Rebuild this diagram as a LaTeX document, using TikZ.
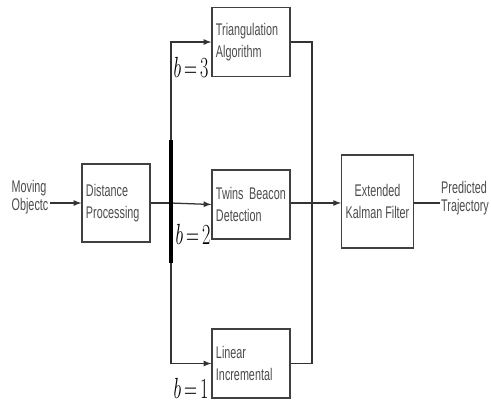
\documentclass[tikz,border=0pt]{standalone}
\usepackage{fontspec}
\usepackage{graphicx}
\newfontfamily\narrowsf[FakeStretch=0.64]{Liberation Sans}
\usetikzlibrary{arrows}
\tikzset{
    block_node/.style = {rectangle, draw=black!75, line width=0.9pt, align=left, inner sep=0.1cm, text=black!70, font=\narrowsf\fontsize{12}{15.5}\selectfont},
    side_node/.style = {align=left, inner sep=1pt, text=black!70, font=\narrowsf\fontsize{12}{12.5}\selectfont},
    b_label/.style = {inner sep=0pt, font=\fontsize{20}{22}\selectfont},
    conn/.style = {draw=black!80, line width=0.9pt}
}
\newcommand{\blabel}[1]{\scalebox{0.62}[1]{$b\,{=}\,#1$}}

\begin{document}
\begin{tikzpicture}[x=0.025cm, y=-0.025cm, >=latex]
    \useasboundingbox (0,0) rectangle (491,403);
    % input and preprocessing
    \node [side_node] (moving) at (30,197) {Moving\\Objectc};
    \node [block_node, text width=1.5cm, minimum height=1.95cm] (dist) at (116,203) {Distance\\Processing};
    % the three methods
    \node [block_node, text width=1.75cm, minimum height=1.725cm] (tri) at (251,42) {Triangulation\\Algorithm};
    \node [block_node, text width=1.75cm, minimum height=1.725cm] (twin) at (251,204.5) {Twins Beacon\\Detection};
    \node [block_node, text width=1.75cm, minimum height=1.725cm] (lin) at (251,363.5) {Linear\\Incremental};
    % filter and output
    \node [block_node, align=center, minimum width=1.775cm, minimum height=2.325cm] (ekf) at (377.5,201.5) {Extended\\Kalman Filter};
    \node [side_node] (pred) at (465,198) {Predicted\\Trajectory};
    \coordinate (split) at (171,203);
    \coordinate (join) at (312,203);
    \coordinate (bar_top) at (171,140);
    \coordinate (bar_bot) at (171,263);
    % switch labels
    \node [b_label] (b3) at (191,67) {\blabel{3}};
    \node [b_label] (b2) at (193,234) {\blabel{2}};
    \node [b_label] (b1) at (191,388) {\blabel{1}};

    \draw [conn, ->] (moving.east |- dist.west) -- (dist.west);
    \draw [conn, line width=1.4pt] (dist.east) -- (split);
    \draw [conn, ->] (split) -- (twin.west);
    \draw [conn, ->] (split) |- (tri.west);
    \draw [conn, ->] (split) |- (lin.west);
    \draw [draw=black, line width=2.2pt] (bar_top) -- (bar_bot);
    \draw [conn] (tri.east) -| (join);
    \draw [conn] (lin.east) -| (join);
    \draw [conn] (twin.east |- join) -- (join);
    \draw [conn, ->] (join) -- (ekf.west |- join);
    \draw [conn] (ekf.east |- join) -- (pred.west |- join);
\end{tikzpicture}
\end{document}
